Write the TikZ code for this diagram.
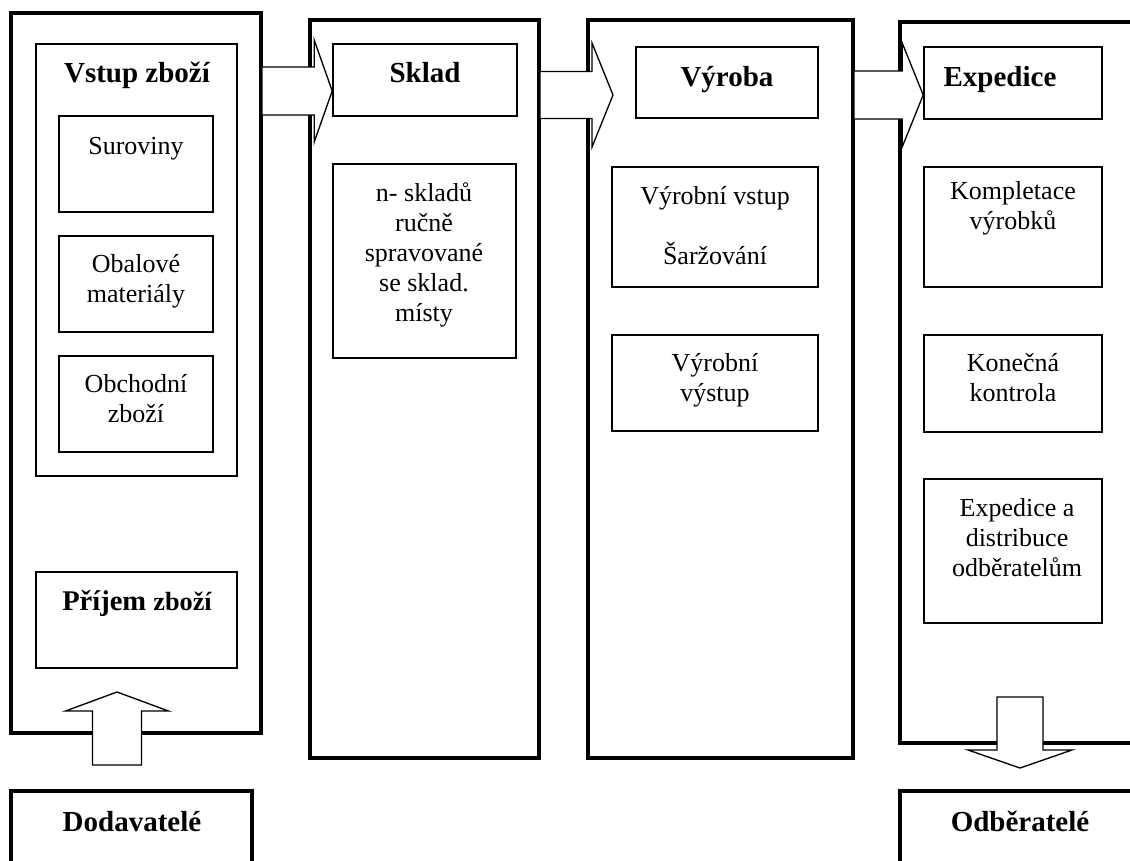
\documentclass[tikz,border=0pt]{standalone}
\usepackage{fontspec}
\setmainfont{Liberation Serif}
\usetikzlibrary{calc,fit}

% 1 unit = 1 px of a 1130 x 860 sheet, y grows downwards
\tikzset{
  x=0.75pt, y=-0.75pt,
  column/.style={draw, line width=2.4pt, inner sep=0pt, fill=white},
  subbox/.style={draw, line width=1.2pt, inner sep=0pt},
  endbox/.style={draw, line width=2.4pt, inner sep=0pt},
  blockarrow/.style={draw, fill=white, line width=1pt, line join=miter},
  % multi-line texts are placed by the baseline of their last line
  txt/.style={inner sep=0pt, anchor=base, align=center,
    font=\fontsize{19.5}{22.5}\selectfont},
  head/.style={inner sep=0pt, anchor=base, align=center,
    font=\bfseries\fontsize{21.75}{25}\selectfont},
}

% horizontal block arrow: start, tip, head length, shaft half width, head half width
\newcommand\hblock[5]{%
  \path[blockarrow] ($(#1)+(0,#4)$) -- ($(#2)+(-#3,#4)$) -- ($(#2)+(-#3,#5)$)
    -- (#2) -- ($(#2)+(-#3,-#5)$) -- ($(#2)+(-#3,-#4)$) -- ($(#1)+(0,-#4)$);}
% vertical block arrow: tail, tip, head length (signed), shaft half width, head half width
\newcommand\vblock[5]{%
  \path[blockarrow] ($(#1)+(-#4,0)$) -- ($(#2)+(-#4,#3)$) -- ($(#2)+(-#5,#3)$)
    -- (#2) -- ($(#2)+(#5,#3)$) -- ($(#2)+(#4,#3)$) -- ($(#1)+(#4,0)$) -- cycle;}

\begin{document}
\begin{tikzpicture}
\useasboundingbox (0,0) rectangle (1130,860);
\clip (0,0) rectangle (1130,860);

% process columns
\node[column, fit={(11,13) (261,733)}] (c1) {};
\node[column, fit={(310,20) (539,758)}] (c2) {};
\node[column, fit={(588,20) (853,758)}] (c3) {};
\node[column, fit={(900,22) (1160,743)}] (c4) {};

% partners
\node[endbox, fit={(11,791) (252,880)}] (supp) {};
\node[endbox, fit={(900,791) (1160,880)}] (cust) {};
\node[head] (tsupp) at (132,831) {Dodavatelé};
\node[head] (tcust) at (1020,831) {Odběratelé};

% column 1: goods in
\node[subbox, fit={(36,44) (237,476)}] (vstup) {};
\node[head] (tvstup) at (137,82) {Vstup zboží};
\node[subbox, fit={(59,116) (213,212)}] (sur) {};
\node[txt] (tsur) at (136,154) {Suroviny};
\node[subbox, fit={(59,236) (213,332)}] (obal) {};
\node[txt] (tobal) at (136,302) {Obalové\\materiály};
\node[subbox, fit={(59,356) (213,452)}] (obch) {};
\node[txt] (tobch) at (136,422) {Obchodní\\zboží};
\node[subbox, fit={(36,572) (237,668)}] (prij) {};
\node[inner sep=0pt, anchor=base, font=\bfseries] (tprij) at (137,610)
  {{\fontsize{21.4}{25}\selectfont Příjem }{\fontsize{19.7}{24}\selectfont zboží}};

% column 2: warehouse
\node[subbox, fit={(333,44) (517,116)}] (sklad) {};
\node[head] (tsklad) at (425,82) {Sklad};
\node[subbox, fit={(333,164) (516,358)}] (nsk) {};
\node[txt] (tnsk) at (424,321) {n- skladů\\ručně\\spravované\\se sklad.\\místy};

% column 3: production
\node[subbox, fit={(636,47) (818,118)}] (vyr) {};
\node[head] (tvyr) at (727,86) {Výroba};
\node[subbox, fit={(612,167) (818,287)}] (vin) {};
\node[txt] (tvin) at (715,264) {Výrobní vstup\\[22.5pt]Šaržování};
\node[subbox, fit={(612,335) (818,431)}] (vout) {};
\node[txt] (tvout) at (715,401) {Výrobní\\výstup};

% column 4: dispatch
\node[subbox, fit={(924,47) (1102,119)}] (exp) {};
\node[head] (texp) at (1000,86) {Expedice};
\node[subbox, fit={(924,167) (1102,287)}] (komp) {};
\node[txt] (tkomp) at (1013,229) {Kompletace\\výrobků};
\node[subbox, fit={(924,335) (1102,432)}] (kon) {};
\node[txt] (tkon) at (1013,401) {Konečná\\kontrola};
\node[subbox, fit={(924,479) (1102,623)}] (dist) {};
\node[txt] (tdist) at (1017,576) {Expedice a\\distribuce\\odběratelům};

% flow between columns
\coordinate (a1t) at (sklad.west |- 0,91);
\coordinate (a1s) at (c1.east |- a1t);
\hblock{a1s}{a1t}{18}{24}{51}
\coordinate (a2t) at (613,95);
\coordinate (a2s) at (c2.east |- a2t);
\hblock{a2s}{a2t}{21}{23.5}{52}
\coordinate (a3t) at (exp.west |- 0,95);
\coordinate (a3s) at (c3.east |- a3t);
\hblock{a3s}{a3t}{21}{24}{52}

% goods coming in from suppliers, going out to customers
\coordinate (upt) at (117,692);
\coordinate (ups) at (117,765);
\vblock{ups}{upt}{19}{24.5}{51.5}
\coordinate (dnt) at (1020,768);
\coordinate (dns) at (1020,697);
\vblock{dns}{dnt}{-18}{23}{52}
\end{tikzpicture}
\end{document}
